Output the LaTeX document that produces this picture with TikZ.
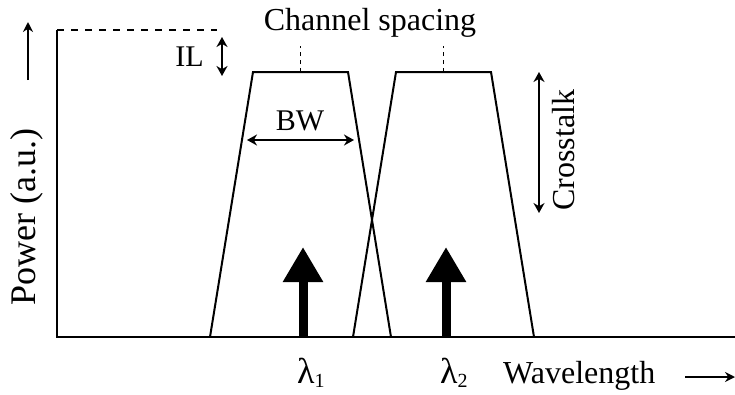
\documentclass[tikz,border=0pt]{standalone}
\usepackage{fontspec}
\setmainfont{Liberation Serif}
\usetikzlibrary{arrows.meta}

\begin{document}
\begin{tikzpicture}[
  x=1pt, y=-1pt,
  every node/.style={font=\fontsize{32}{36}\selectfont, inner sep=0pt},
  smalltext/.style={font=\fontsize{30}{34}\selectfont},
  axisline/.style={line width=2pt},
  passband/.style={line width=2pt, line join=miter},
  refline/.style={line width=2pt, dash pattern=on 7pt off 7pt},
  centremark/.style={line width=1.8pt, dash pattern=on 4pt off 4pt},
  dimarrow/.style={line width=2pt, {Stealth[length=10pt,width=11pt]}-{Stealth[length=10pt,width=11pt]}},
  dirarrow/.style={line width=2pt, -{Stealth[length=10pt,width=10pt]}},
  signal/.style={line width=9pt, -{Triangle[length=35pt,width=38pt]}},
]

% Page: 735 x 394 px
\useasboundingbox (0,0) rectangle (735,394);

% Axes
\coordinate (origin) at (57,337);
\coordinate (ytop) at (57,30);
\coordinate (xend) at (735,337);
\draw[axisline] (ytop) -- (origin) -- (xend);

% Reference level for the insertion loss
\coordinate (ilend) at (217,30);
\draw[refline] (ytop) -- (ilend);

% Axis titles
\coordinate (pwrfoot) at (28,80);
\coordinate (pwrhead) at (28,22);
\draw[dirarrow] (pwrfoot) -- (pwrhead);
\node[rotate=90, font=\fontsize{36}{40}\selectfont] (power) at (27,217) {Power (a.u.)};

\node[font=\fontsize{32}{36}\selectfont, anchor=base west] (wavelength) at (503,383) {Wavelength};
\coordinate (wlfoot) at (685,377);
\coordinate (wlhead) at (735,377);
\draw[dirarrow] (wlfoot) -- (wlhead);

% Two filter passbands, one channel spacing apart
\foreach \dx/\ch in {0/1, 143/2} {
  \draw[passband] (210+\dx,337) -- (253+\dx,72) -- (348+\dx,72) -- (391+\dx,337);
  \coordinate (mid\ch) at (300.5+\dx,72);
  \coordinate (tick\ch) at (300.5+\dx,46);
  \draw[centremark] (mid\ch) -- (tick\ch);
  % carrier
  \coordinate (foot\ch) at (303+\dx,337);
  \coordinate (peak\ch) at (303+\dx,247);
  \draw[signal] (foot\ch) -- (peak\ch);
  \node[anchor=base west, font=\fontsize{36}{40}\selectfont] (lambda\ch) at (297+\dx,383)
    {λ\raisebox{-4pt}{\fontsize{20}{20}\selectfont\ch}};
}

\node[anchor=base] (spacing) at (370,30) {Channel spacing};

% Insertion loss
\node[anchor=base east, smalltext] (il) at (204,66) {IL};
\coordinate (iltop) at (222,37);
\coordinate (ilbot) at (222,76);
\draw[dimarrow] (iltop) -- (ilbot);

% Bandwidth
\node[smalltext, anchor=base] (bw) at (300,130) {BW};
\coordinate (bwleft) at (247,140);
\coordinate (bwright) at (354,140);
\draw[dimarrow] (bwleft) -- (bwright);

% Crosstalk
\coordinate (xttop) at (539,72);
\coordinate (xtbot) at (539,213);
\draw[dimarrow] (xttop) -- (xtbot);
\node[rotate=90] (crosstalk) at (564,150) {Crosstalk};

\end{tikzpicture}
\end{document}
